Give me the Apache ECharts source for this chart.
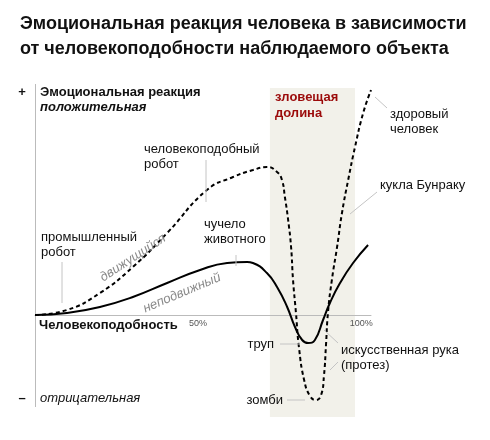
<!DOCTYPE html>
<html lang="ru">
<head>
    <meta charset="utf-8">
    <title>Зловещая долина</title>
    <script src="https://cdn.jsdelivr.net/npm/echarts@6/dist/echarts.min.js"></script>
    <style>
        html, body { margin: 0; padding: 0; background: #fff; }
        #main { width: 490px; height: 440px; }
    </style>
</head>
<body>
    <div id="main"></div>
    <script>
        // человекоподобность, % / эмоциональная реакция (условные единицы)
        var movingX = [0, 9.8, 19.9, 30, 40.5, 52.7, 60.7, 66.8, 71.1, 74.2, 75.7, 76.6, 77.6, 78.5, 79.1, 80, 80.9, 82.5, 84.3, 86.1, 87.7, 88.6, 89.2, 89.8, 91, 92.6, 94.1, 96, 98.1, 100.6, 103];
        var movingY = [0, 5, 22, 48, 82, 125, 138, 145, 148, 143, 135, 118, 95, 68, 35, 2, -32, -65, -81, -85, -80, -60, -30, 2, 35, 68, 102, 135, 168, 202, 225];
        var stillX = [0, 9.8, 19.9, 30, 40.5, 50.6, 58.9, 65, 66.8, 71.1, 74.2, 77.3, 79.7, 81.9, 83.7, 85.8, 88.3, 90.4, 93.5, 97.5, 102.1];
        var stillY = [0, 2, 8, 18, 32, 45, 52, 53, 52, 42, 28, 8, -12, -25, -28, -25, -5, 12, 32, 52, 70];
        var valleyX = [72, 98.1];
        var valleyY = [-102, 227];
        var yAxisSpan = [-92, 231];
        var tickLabels = { 50: '50%', 100: '100%' };

        function pairs(xs, ys) {
            return xs.map(function (x, i) { return [x, ys[i]]; });
        }

        var font = '"Liberation Sans", Arial, sans-serif';
        var lead = '#c4c4c4';

        function label(text, x, y, extra) {
            var st = {
                text: text, x: x, y: y,
                font: '13px ' + font, fill: '#111',
                textVerticalAlign: 'middle', lineHeight: 15
            };
            for (var k in extra) st[k] = extra[k];
            return { type: 'text', silent: true, style: st, z: 20 };
        }
        function slanted(text, x, y, angle) {
            return {
                type: 'text', silent: true, z: 20,
                x: x, y: y, rotation: angle,
                style: {
                    text: text, x: 0, y: 0,
                    font: 'italic 13px ' + font, fill: '#8a8a8a',
                    textAlign: 'center', textVerticalAlign: 'middle'
                }
            };
        }
        function leader(x1, y1, x2, y2) {
            return {
                type: 'line', silent: true, z: 19,
                shape: { x1: x1, y1: y1, x2: x2, y2: y2 },
                style: { stroke: lead, lineWidth: 1 }
            };
        }

        var chart = echarts.init(document.getElementById('main'), null, { renderer: 'canvas' });
        chart.setOption({
            animation: false,
            title: {
                text: 'Эмоциональная реакция человека в зависимости\nот человекоподобности наблюдаемого объекта',
                left: 15, top: 7,
                textStyle: { fontFamily: font, fontSize: 18, fontWeight: 'bold', color: '#111', lineHeight: 25 }
            },
            grid: { left: 35, right: 119, top: 84, bottom: 23 },
            xAxis: {
                type: 'value', min: 0, max: 103, interval: 50,
                offset: -102, z: 5,
                axisLine: { onZero: false, lineStyle: { color: '#bbb', width: 1 } },
                axisTick: { show: false },
                splitLine: { show: false },
                axisLabel: {
                    margin: 4, fontSize: 9, color: '#555', fontFamily: font,
                    formatter: function (v) { return tickLabels[v] || ''; }
                }
            },
            yAxis: { type: 'value', min: -102, max: 231, show: false },
            series: [
                {
                    // зловещая долина и вертикальная ось
                    type: 'line', name: 'фон', data: [], z: 1,
                    markArea: {
                        silent: true,
                        itemStyle: { color: '#f2f1ea' },
                        data: [[{ coord: [valleyX[0], valleyY[1]] }, { coord: [valleyX[1], valleyY[0]] }]]
                    },
                    markLine: {
                        silent: true, symbol: 'none',
                        label: { show: false },
                        lineStyle: { color: '#bbb', width: 1, type: 'solid' },
                        data: [[{ coord: [0, yAxisSpan[1]] }, { coord: [0, yAxisSpan[0]] }]]
                    }
                },
                {
                    type: 'line', name: 'неподвижный',
                    data: pairs(stillX, stillY),
                    smooth: true, showSymbol: false, symbol: 'none',
                    lineStyle: { color: '#000', width: 2 },
                    z: 12
                },
                {
                    type: 'line', name: 'движущийся',
                    data: pairs(movingX, movingY),
                    smooth: true, showSymbol: false, symbol: 'none', clip: false,
                    lineStyle: { color: '#000', width: 2, type: [4, 3] },
                    z: 12
                }
            ],
            graphic: [
                label('+', 22, 92, { font: 'bold 13px ' + font, textAlign: 'center' }),
                label('Эмоциональная реакция', 40, 92, { font: 'bold 13px ' + font }),
                label('положительная', 40, 107, { font: 'italic bold 13px ' + font }),
                label('–', 22, 398, { font: 'bold 13px ' + font, textAlign: 'center' }),
                label('отрицательная', 40, 398, { font: 'italic 13px ' + font }),
                label('Человекоподобность', 39, 325, { font: 'bold 13px ' + font }),
                label('зловещая\nдолина', 275, 105, { font: 'bold 13px ' + font, fill: '#9b0a0a', lineHeight: 16 }),

                label('промышленный\nробот', 41, 245),
                leader(62, 262, 62, 303),
                label('человекоподобный\nробот', 144, 157),
                leader(206, 160, 206, 202),
                label('чучело\nживотного', 204, 232),
                leader(236, 255, 236, 266),
                label('здоровый\nчеловек', 390, 122),
                leader(375, 97, 387, 108),
                label('кукла Бунраку', 380, 185),
                leader(377, 192, 350, 214),
                label('труп', 274, 344, { textAlign: 'right' }),
                leader(280, 344, 300, 344),
                label('искусственная рука\n(протез)', 341, 358),
                leader(324, 330, 338, 343),
                leader(330, 370, 338, 362),
                label('зомби', 283, 400, { textAlign: 'right' }),
                leader(287, 400, 305, 400),

                slanted('движущийся', 133, 258, 0.58),
                slanted('неподвижный', 182, 293, 0.40)
            ]
        });
        window.onresize = chart.resize;
    </script>
</body>
</html>
